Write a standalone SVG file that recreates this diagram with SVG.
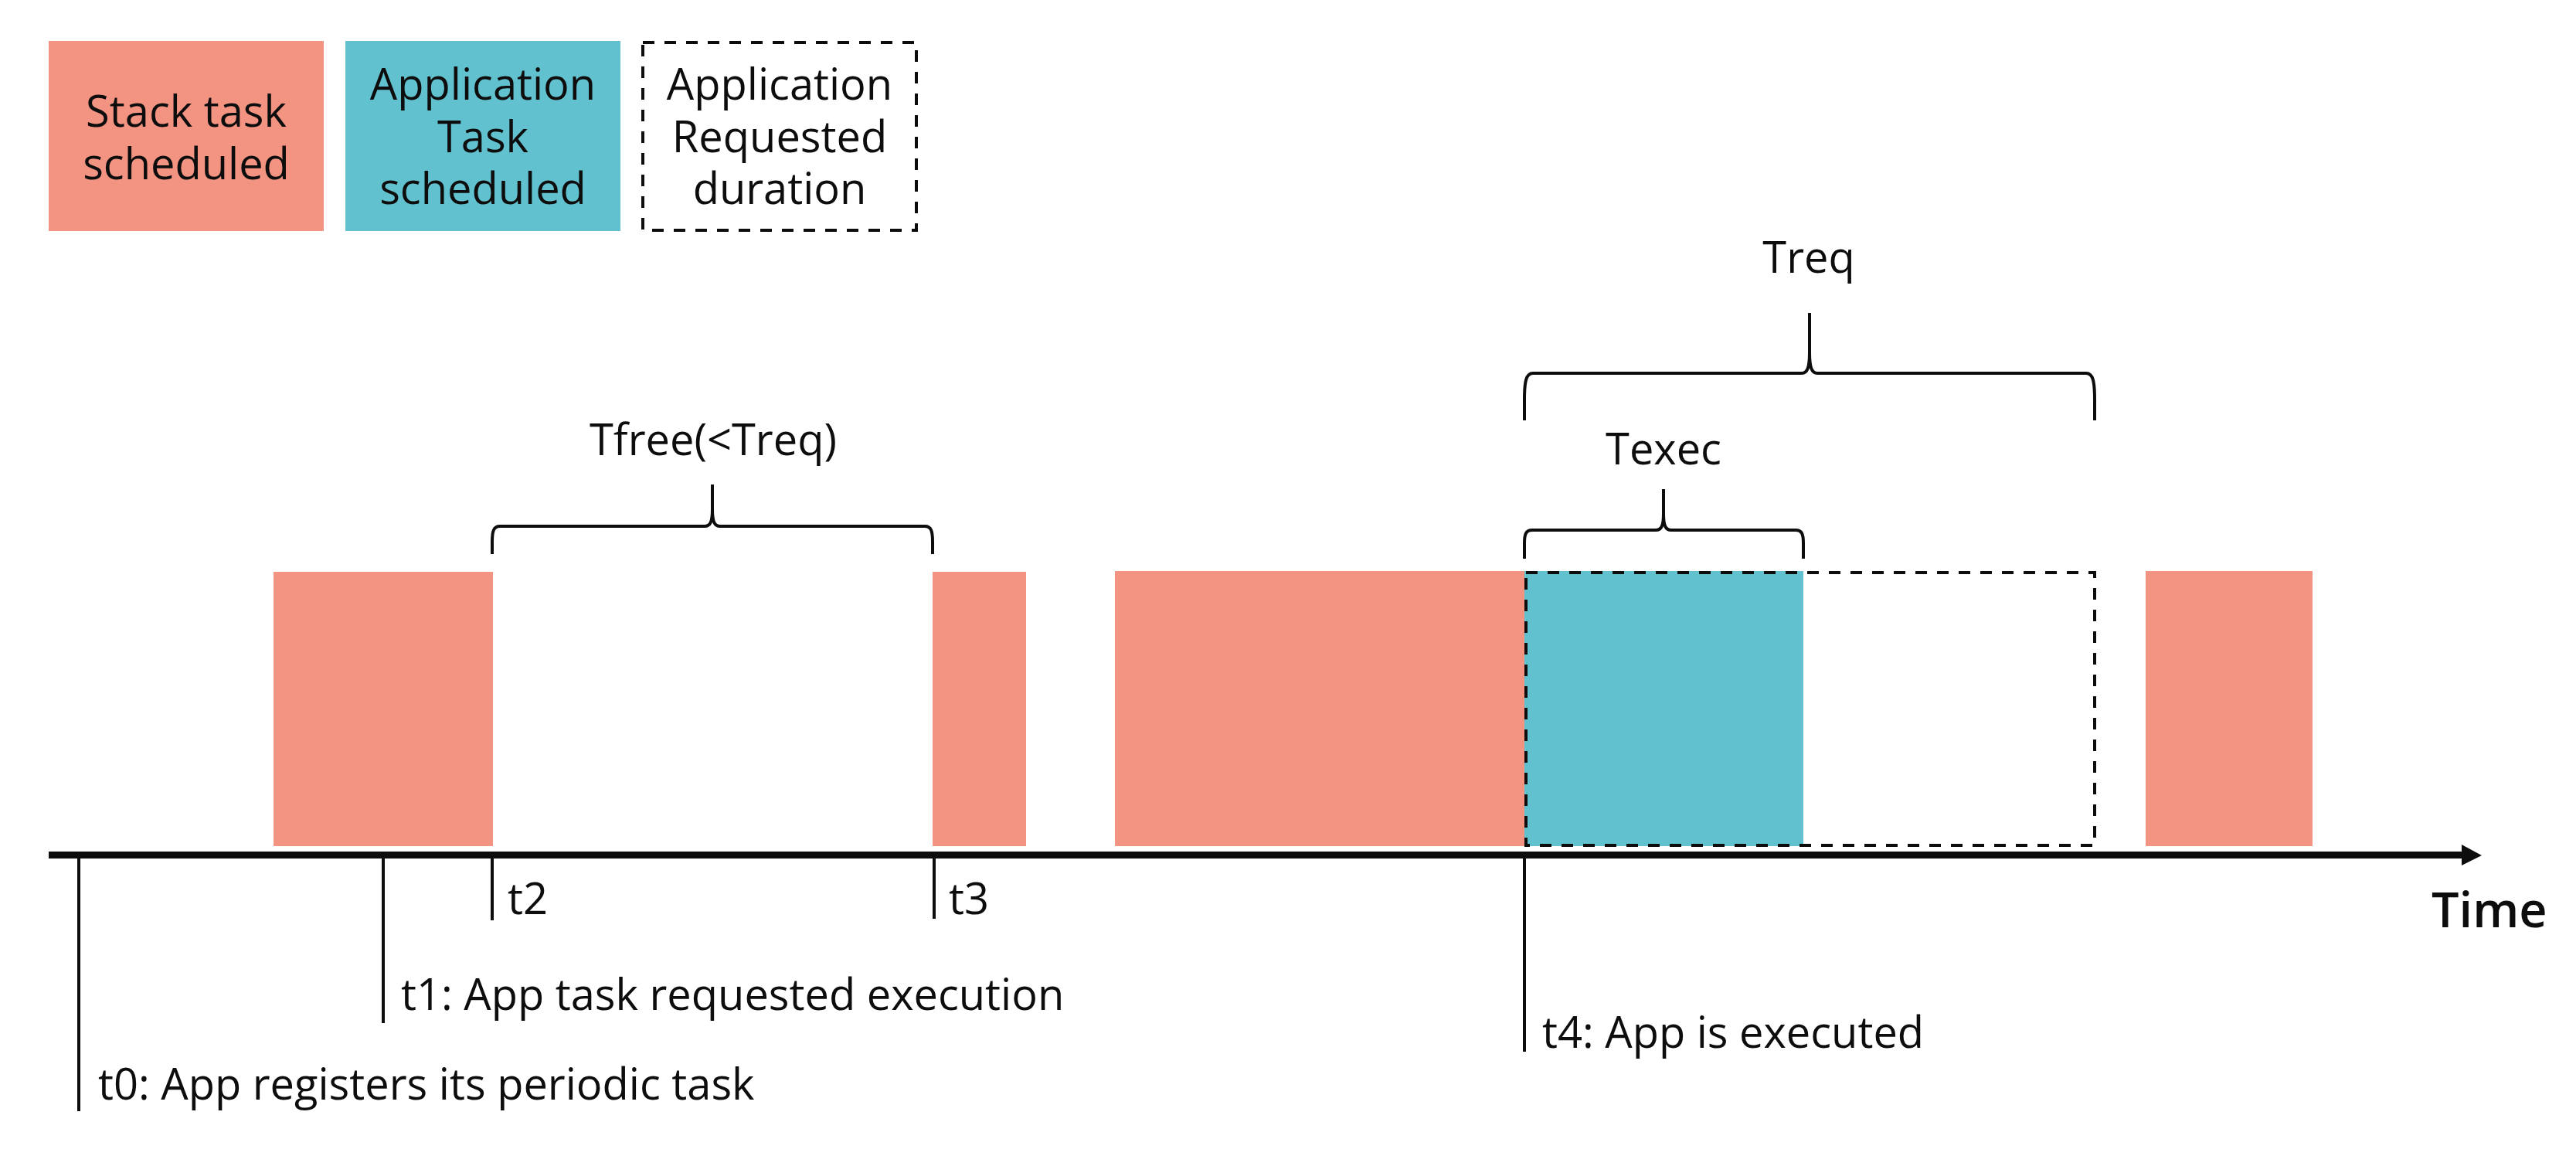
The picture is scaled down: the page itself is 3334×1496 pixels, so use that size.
<svg xmlns="http://www.w3.org/2000/svg" width="3334" height="1496" viewBox="0 0 3334 1496">
<style>
.stack{fill:#F39483}
.app{fill:#62C1CE}
.dash{fill:none;stroke:#0d0d0d;stroke-width:4;stroke-dasharray:15 13}
.lbl{font-family:"Open Sans","Liberation Sans",sans-serif;font-size:56px;fill:#0d0d0d}
.mid{text-anchor:middle}
.tick{stroke:#0d0d0d;stroke-width:4;fill:none}
.brace{stroke:#0d0d0d;stroke-width:4;fill:none;stroke-linejoin:round}
</style>
<rect width="3334" height="1496" fill="#ffffff"/>

<g id="legend-stack">
<rect class="stack" x="63" y="53" width="356" height="246"/>
<text class="lbl mid"><tspan x="241" y="164">Stack task</tspan><tspan x="241" y="232">scheduled</tspan></text>
</g>
<g id="legend-app">
<rect class="app" x="447" y="53" width="356" height="246"/>
<text class="lbl mid"><tspan x="625" y="129">Application</tspan><tspan x="625" y="197">Task</tspan><tspan x="625" y="264">scheduled</tspan></text>
</g>
<g id="legend-requested">
<rect class="dash" x="832" y="55" width="354" height="243"/>
<text class="lbl mid"><tspan x="1009" y="129">Application</tspan><tspan x="1009" y="197">Requested</tspan><tspan x="1009" y="264">duration</tspan></text>
</g>

<g id="stack-1"><rect class="stack" x="354" y="740" width="284" height="355"/></g>
<g id="stack-2"><rect class="stack" x="1207" y="740" width="121" height="355"/></g>
<g id="stack-3"><rect class="stack" x="1443" y="739" width="530" height="356"/></g>
<g id="app-task"><rect class="app" x="1973" y="739" width="361" height="356"/></g>
<g id="requested-duration"><rect class="dash" x="1975" y="741" width="736" height="353"/></g>
<g id="stack-4"><rect class="stack" x="2777" y="739" width="216" height="356"/></g>

<g id="connectors">
<line x1="63" y1="1106.5" x2="3190" y2="1106.5" stroke="#0d0d0d" stroke-width="9"/>
<polygon points="3186,1093 3212,1107 3186,1120" fill="#0d0d0d"/>
<line class="tick" x1="102" y1="1110" x2="102" y2="1438"/>
<line class="tick" x1="496" y1="1110" x2="496" y2="1324"/>
<line class="tick" x1="637" y1="1110" x2="637" y2="1191"/>
<line class="tick" x1="1209" y1="1110" x2="1209" y2="1189"/>
<line class="tick" x1="1973" y1="1110" x2="1973" y2="1361"/>
<path id="brace-tfree" class="brace" d="M637,717 V701 C637,687 639,681 647,681 H912 C919,681 922,676 922,659 V627 M922,659 C922,676 925,681 932,681 H1197 C1205,681 1207,687 1207,701 V717"/>
<path id="brace-treq" class="brace" d="M1973,544 V517 C1973,494 1975,483 1984,483 H2332 C2339,483 2342,476 2342,456 V405 M2342,456 C2342,476 2345,483 2352,483 H2700 C2709,483 2711,494 2711,517 V544"/>
<path id="brace-texec" class="brace" d="M1973,723 V703 C1973,691 1975,686 1983,686 H2143 C2150,686 2153,681 2153,665 V633 M2153,665 C2153,681 2156,686 2163,686 H2324 C2332,686 2334,691 2334,703 V723"/>
</g>

<g id="labels">
<text class="lbl" x="127" y="1423">t0: App registers its periodic task</text>
<text class="lbl" x="519" y="1307">t1: App task requested execution</text>
<text class="lbl" x="657" y="1183">t2</text>
<text class="lbl" x="1228" y="1183">t3</text>
<text class="lbl" x="1996" y="1356">t4: App is executed</text>
<text class="lbl mid" x="923" y="589">Tfree(&lt;Treq)</text>
<text class="lbl mid" x="2341" y="353">Treq</text>
<text class="lbl mid" x="2153" y="601">Texec</text>
<text x="3147" y="1200" font-family="'Open Sans','Liberation Sans',sans-serif" font-size="63" font-weight="600" fill="#0d0d0d">Time</text>
</g>
</svg>
